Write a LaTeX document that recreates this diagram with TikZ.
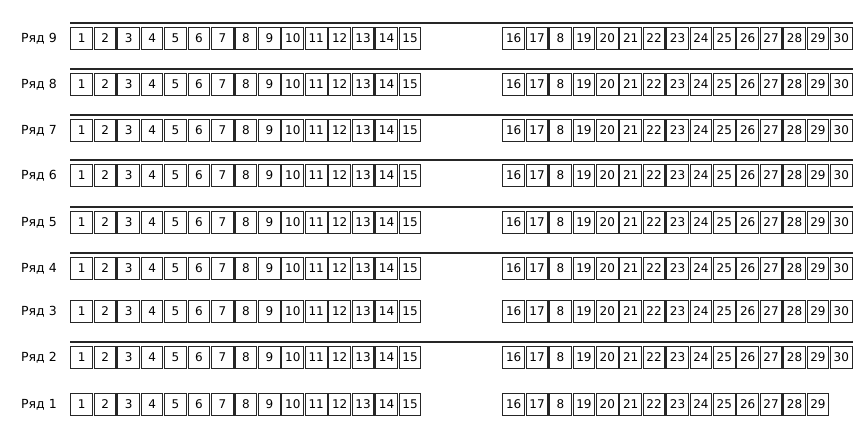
\documentclass[tikz,border=0pt]{standalone}
\usepackage{fontspec}
\setmainfont{DejaVu Sans}
\begin{document}
\begin{tikzpicture}[x=1pt,y=-1pt,
  seat/.style={draw=black!85,line width=1.1pt,fill=white,minimum width=21.7pt,minimum height=21.9pt,inner sep=0pt,font=\fontsize{12}{12}\selectfont},
  rowlabel/.style={anchor=east,inner sep=0pt,font=\fontsize{12.5}{12.5}\selectfont},
  aisle/.style={draw=black!85,line width=1.4pt}]
\useasboundingbox (0,0) rectangle (868,446);
\foreach \r/\t in {9/27,8/73,7/119,6/164,5/211,4/257,3/300,2/346,1/393}{
  \pgfmathsetmacro\cy{\t+11.5}
  \node[rowlabel] (lab\r) at (57,\cy) {Ряд \r};
  \foreach \i in {1,...,15}{
    \node[seat] (s\r-\i) at ({70+23.45*(\i-0.5)},\cy) {\i};
  }
  \pgfmathtruncatemacro\nmax{\r==1 ? 14 : 15}
  \foreach \i in {1,...,\nmax}{
    \pgfmathtruncatemacro\n{\i==3 ? 8 : 15+\i}
    \node[seat] (t\r-\i) at ({502+23.4*(\i-0.5)},\cy) {\n};
  }
}
\foreach \t in {27,73,119,164,211,257,346}{
  \draw[aisle] (70,\t-4) -- (853,\t-4);
}
\end{tikzpicture}
\end{document}
